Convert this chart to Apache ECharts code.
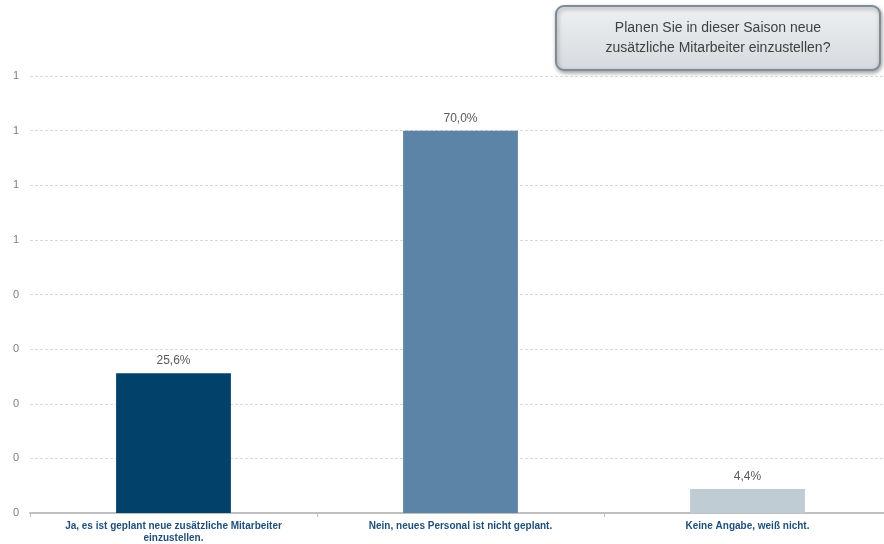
<!DOCTYPE html>
<html>
<head>
<meta charset="utf-8">
<script src="https://cdn.jsdelivr.net/npm/echarts@6/dist/echarts.min.js"></script>
<style>html,body{margin:0;padding:0;background:#fff;overflow:hidden;width:884px;height:544px;}#c{width:891px;height:544px;}</style>
</head>
<body>
<div id="c"></div>
<script>
const categories = ['Ja, es ist geplant neue zusätzliche Mitarbeiter\neinzustellen.', 'Nein, neues Personal ist nicht geplant.', 'Keine Angabe, weiß nicht.'];
const values = [0.256, 0.700, 0.044];
const barColors = ['#02416a', '#5b84a7', '#bfccd4'];
const titleLines = ['Planen Sie in dieser Saison neue', 'zusätzliche Mitarbeiter einzustellen?'];

const chart = echarts.init(document.getElementById('c'));
chart.setOption({
  animation: false,
  grid: {left: 30, right: 0, top: 76, bottom: 31, containLabel: false},
  xAxis: {
    type: 'category',
    data: categories,
    axisLine: {lineStyle: {color: '#bfbfbf', width: 2}},
    axisTick: {show: true, length: 4, lineStyle: {color: '#bfbfbf'}},
    axisLabel: {color: '#1f4e79', fontSize: 10, fontWeight: 'bold', fontFamily: 'Liberation Sans, Arial', margin: 7, lineHeight: 12, interval: 0}
  },
  yAxis: {
    type: 'value',
    min: 0, max: 0.8, interval: 0.1,
    axisLine: {show: false},
    axisTick: {show: false},
    axisLabel: {color: '#7f7f7f', fontSize: 11, fontFamily: 'Liberation Sans, Arial', margin: 11, formatter: v => String(Math.round(v))},
    splitLine: {lineStyle: {color: '#d9d9d9', type: [3, 2]}}
  },
  series: [{
    type: 'bar',
    barWidth: '40%',
    data: values.map((v, i) => ({value: v, itemStyle: {color: barColors[i]}})),
    label: {
      show: true, position: 'top', distance: 6,
      color: '#595959', fontSize: 12, fontFamily: 'Liberation Sans, Arial',
      formatter: p => (p.value * 100).toFixed(1).replace('.', ',') + '%'
    }
  }],
  graphic: [{
    type: 'group', left: 555, top: 5,
    children: [{
      type: 'rect',
      shape: {x: 0, y: 0, width: 324, height: 64, r: 8},
      style: {
        fill: new echarts.graphic.LinearGradient(0, 0, 0, 1, [{offset: 0, color: '#eef0f2'}, {offset: 1, color: '#d6dade'}]),
        stroke: '#7e8b99', lineWidth: 2,
        shadowBlur: 4, shadowColor: 'rgba(0,0,0,0.35)', shadowOffsetX: 1, shadowOffsetY: 2
      }
    }, {
      type: 'text',
      style: {
        x: 162, y: 32, text: titleLines.join('\n'), align: 'center', verticalAlign: 'middle',
        fill: '#404040', fontSize: 14, lineHeight: 20, fontFamily: 'Liberation Sans, Arial'
      }
    }]
  }]
});
</script>
</body>
</html>
